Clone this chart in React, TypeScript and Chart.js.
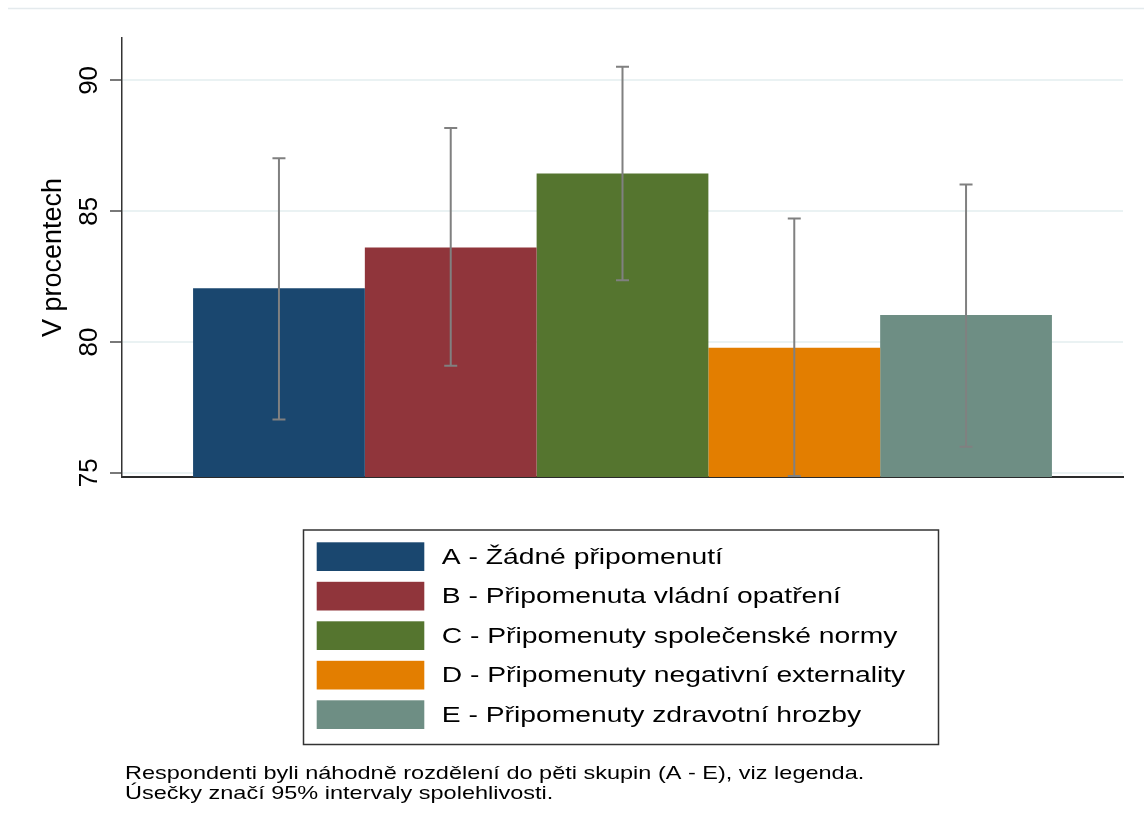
import React, { useEffect, useRef } from 'react';
import { Chart, registerables } from 'chart.js';

Chart.register(...registerables);

const GROUPS = [
  'A - Žádné připomenutí',
  'B - Připomenuta vládní opatření',
  'C - Připomenuty společenské normy',
  'D - Připomenuty negativní externality',
  'E - Připomenuty zdravotní hrozby',
];
const MEANS = [82.05, 83.61, 86.44, 79.78, 81.03];
const CI_LOW = [77.04, 79.09, 82.36, 74.88, 76.0];
const CI_HIGH = [87.02, 88.18, 90.52, 84.72, 86.02];
const COLORS = ['#1a476f', '#90353b', '#55752f', '#e37e00', '#6e8e84'];
const Y_TICKS = [75, 80, 85, 90];
const Y_MIN = 74.84;
const Y_MAX = 91.62;
const Y_TITLE = 'V procentech';
const NOTES = [
  'Respondenti byli náhodně rozdělení do pěti skupin (A - E), viz legenda.',
  'Úsečky značí 95% intervaly spolehlivosti.',
];

const FONT = "'Liberation Sans', Arial, sans-serif";

function stretchedText(ctx: CanvasRenderingContext2D, text: string, x: number, y: number, sx: number) {
  ctx.save();
  ctx.translate(x, y);
  ctx.scale(sx, 1);
  ctx.fillText(text, 0, 0);
  ctx.restore();
}

const topRulePlugin = {
  id: 'topRule',
  beforeDraw(chart: any) {
    const ctx = chart.ctx;
    ctx.save();
    ctx.strokeStyle = '#e4eaed';
    ctx.lineWidth = 1.5;
    ctx.beginPath();
    ctx.moveTo(8, 8.5);
    ctx.lineTo(chart.width, 8.5);
    ctx.stroke();
    ctx.restore();
  },
};

const errorBarPlugin = {
  id: 'errorBars',
  afterDatasetsDraw(chart: any) {
    const ctx = chart.ctx;
    const ys = chart.scales.y;
    ctx.save();
    ctx.strokeStyle = '#808080';
    ctx.lineWidth = 2;
    chart.data.datasets.forEach((ds: any, i: number) => {
      const el = chart.getDatasetMeta(i).data[0];
      if (!el) return;
      const x = el.x;
      const lo = ys.getPixelForValue(ds.ciLow);
      const hi = ys.getPixelForValue(ds.ciHigh);
      const half = 6.5;
      ctx.beginPath();
      ctx.moveTo(x, lo);
      ctx.lineTo(x, hi);
      ctx.moveTo(x - half, lo);
      ctx.lineTo(x + half, lo);
      ctx.moveTo(x - half, hi);
      ctx.lineTo(x + half, hi);
      ctx.stroke();
    });
    ctx.restore();
  },
};

const legendNotesPlugin = {
  id: 'legendNotes',
  afterDraw(chart: any) {
    const ctx = chart.ctx;
    ctx.save();
    const boxL = 303.5, boxT = 530, boxR = 938.5, boxB = 744.5;
    ctx.strokeStyle = '#333333';
    ctx.lineWidth = 1.5;
    ctx.strokeRect(boxL, boxT, boxR - boxL, boxB - boxT);
    const swX = 316.7, swW = 107.6, swH = 28.7, firstTop = 542.3, pitch = 39.5;
    ctx.font = `22px ${FONT}`;
    ctx.textBaseline = 'middle';
    ctx.textAlign = 'left';
    chart.data.datasets.forEach((ds: any, i: number) => {
      const top = firstTop + i * pitch;
      ctx.fillStyle = ds.backgroundColor;
      ctx.fillRect(swX, top, swW, swH);
      ctx.fillStyle = '#000';
      stretchedText(ctx, ds.label, 441.7, top + swH / 2 + 1, 1.285);
    });
    ctx.font = `18.5px ${FONT}`;
    ctx.textBaseline = 'alphabetic';
    ctx.fillStyle = '#000';
    NOTES.forEach((line, i) => {
      stretchedText(ctx, line, 125, 779 + i * 20, 1.27);
    });
    ctx.restore();
  },
};

export default function App() {
  const ref = useRef<HTMLCanvasElement>(null);

  useEffect(() => {
    if (!ref.current) return;
    const chart = new Chart(ref.current, {
      type: 'bar',
      data: {
        labels: [''],
        datasets: GROUPS.map((g, i) => ({
          label: g,
          data: [MEANS[i]],
          backgroundColor: COLORS[i],
          borderWidth: 0,
          barPercentage: 1,
          categoryPercentage: 0.858,
          ciLow: CI_LOW[i],
          ciHigh: CI_HIGH[i],
        })) as any,
      },
      options: {
        responsive: false,
        animation: false,
        devicePixelRatio: 1,
        layout: { padding: { left: 0, top: 38, right: 21, bottom: 357 } },
        plugins: {
          legend: { display: false },
          tooltip: { enabled: false },
        },
        scales: {
          x: {
            type: 'category',
            z: 1,
            grid: { display: false },
            ticks: { display: false },
            border: { display: true, color: '#2b2b2b', width: 2 },
            afterFit: (s: any) => {
              s.height = 0;
            },
          },
          y: {
            type: 'linear',
            min: Y_MIN,
            max: Y_MAX,
            afterBuildTicks: (s: any) => {
              s.ticks = Y_TICKS.map((v) => ({ value: v }));
            },
            afterFit: (s: any) => {
              s.width = 122;
            },
            grid: {
              color: '#eaf2f3',
              lineWidth: 2,
              tickColor: '#4d4d4d',
              tickWidth: 1.5,
              tickLength: 12,
            },
            border: { display: true, color: '#333333', width: 1.5 },
            ticks: {
              autoSkip: false,
              minRotation: 90,
              maxRotation: 90,
              crossAlign: 'center',
              padding: 6,
              color: '#000',
              font: { family: FONT, size: 26 },
              callback: (v: any) => String(v),
            },
            title: {
              display: true,
              text: Y_TITLE,
              color: '#000',
              font: { family: FONT, size: 27 },
              padding: { top: 37, bottom: 0 },
            },
          },
        },
      } as any,
      plugins: [topRulePlugin, errorBarPlugin, legendNotesPlugin],
    });
    return () => chart.destroy();
  }, []);

  return (
    <div style={{ position: 'fixed', left: 0, top: 0, width: 1144, height: 834, background: '#fff' }}>
      <canvas ref={ref} width={1144} height={834} style={{ width: 1144, height: 834, display: 'block' }} />
    </div>
  );
}
